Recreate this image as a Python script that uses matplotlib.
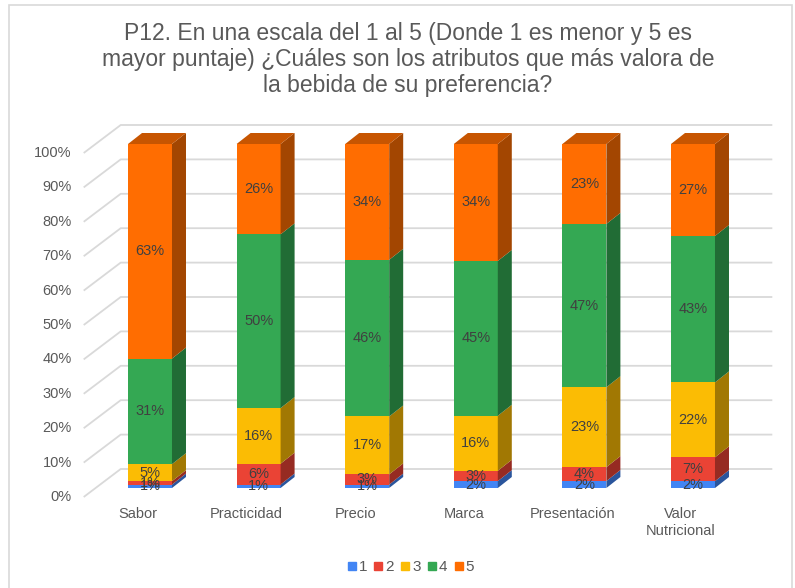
import matplotlib
matplotlib.use('Agg')
import matplotlib.pyplot as plt
from matplotlib.patches import Polygon, Rectangle
from matplotlib.lines import Line2D

# ---------------- data ----------------
categories = ['Sabor', 'Practicidad', 'Precio', 'Marca', 'Presentación', 'Valor\nNutricional']
series_names = ['1', '2', '3', '4', '5']
s1 = [1, 1, 1, 2, 2, 2]
s2 = [1, 6, 3, 3, 4, 7]
s3 = [5, 16, 17, 16, 23, 22]
s4 = [31, 50, 46, 45, 47, 43]
s5 = [63, 26, 34, 34, 23, 27]
y_ticks = [0, 10, 20, 30, 40, 50, 60, 70, 80, 90, 100]
y_tick_labels = ['0%', '10%', '20%', '30%', '40%', '50%', '60%', '70%', '80%', '90%', '100%']
title = ('P12. En una escala del 1 al 5 (Donde 1 es menor y 5 es\n'
         'mayor puntaje) ¿Cuáles son los atributos que más valora de\n'
         'la bebida de su preferencia?')

colors = ['#4285F4', '#EA4335', '#FBBC04', '#34A853', '#FF6D01']
series = [s1, s2, s3, s4, s5]


def shade(hexc, f):
    h = hexc.lstrip('#')
    r, g, b = (int(h[k:k + 2], 16) for k in (0, 2, 4))
    return (r * f / 255, g * f / 255, b * f / 255)


plt.rcParams['font.family'] = ['Liberation Sans', 'DejaVu Sans']
W, H = 795, 588
fig = plt.figure(figsize=(W / 100, H / 100), dpi=100)
fig.patch.set_facecolor('white')

ax = fig.add_axes([95.7 / W, 100 / H, 651.6 / W, 344 / H])
ax.set_xlim(-0.5, 5.5)
ax.set_ylim(0, 100)
ax.axis('off')

p0 = ax.transData.transform((0, 0))
p1 = ax.transData.transform((1, 100))
ppx = p1[0] - p0[0]
ppy = (p1[1] - p0[1]) / 100.0


def off(dx, dy):
    return dx / ppx, dy / ppy


fx, fy = off(-12, -9)     # front plane
bx, by = off(25, 19)      # back wall
sdx, sdy = off(14, 11)    # bar depth

grid_c = '#D9D9D9'
for v, lab in zip(y_ticks, y_tick_labels):
    ax.plot([-0.5 + fx, -0.5 + bx, 5.5 + bx], [v + fy, v + by, v + by],
            color=grid_c, lw=1.3, clip_on=False, zorder=0, solid_capstyle='butt')
    lx, _ = off(-12, 0)
    ax.text(-0.5 + fx + lx, v + fy, lab, ha='right', va='center',
            fontsize=10.5, color='#595959')

w = 0.405
for i in range(len(categories)):
    vals = [s[i] for s in series]
    tot = float(sum(vals))
    bottom = 0.0
    for j, v in enumerate(vals):
        h = v / tot * 100.0
        c = colors[j]
        ax.bar(i, h, w, bottom=bottom, color=c, zorder=2, linewidth=0)
        xr = i + w / 2
        side = Polygon([(xr, bottom), (xr, bottom + h), (xr + sdx, bottom + h + sdy),
                        (xr + sdx, bottom + sdy)], closed=True,
                       facecolor=shade(c, 0.64), edgecolor='none', zorder=2, clip_on=False)
        ax.add_patch(side)
        if j == len(vals) - 1:
            xl = i - w / 2
            top = Polygon([(xl, bottom + h), (xr, bottom + h), (xr + sdx, bottom + h + sdy),
                           (xl + sdx, bottom + h + sdy)], closed=True,
                          facecolor=shade(c, 0.78), edgecolor='none', zorder=2, clip_on=False)
            ax.add_patch(top)
        ax.text(i, bottom + h / 2, f'{v}%', ha='center', va='center',
                fontsize=10.5, color='#404040', zorder=5)
        bottom += h

_, ldy = off(0, -10)
for i, cat in enumerate(categories):
    ax.text(i + fx, fy + ldy, cat, ha='center', va='top', fontsize=10.5,
            color='#595959', linespacing=1.25)

fig.text(408 / W, 1 - 22 / H, title, ha='center', va='top', fontsize=16.5,
         color='#595959', linespacing=1.16)

handles = [Line2D([], [], marker='s', ls='', color=c, markersize=5.5) for c in colors]
fig.legend(handles, series_names, loc='center', bbox_to_anchor=(411 / W, 1 - 567 / H),
           ncol=5, frameon=False, handletextpad=0.2, columnspacing=0.5,
           handlelength=0.5, fontsize=11, labelcolor='#595959')

fig.patches.append(Rectangle((9 / W, -0.1), (792 - 9) / W, (1 - 5 / H) + 0.1,
                             transform=fig.transFigure, fill=False,
                             edgecolor='#D9D9D9', lw=1.2))

fig.savefig('out.png', dpi=100)
